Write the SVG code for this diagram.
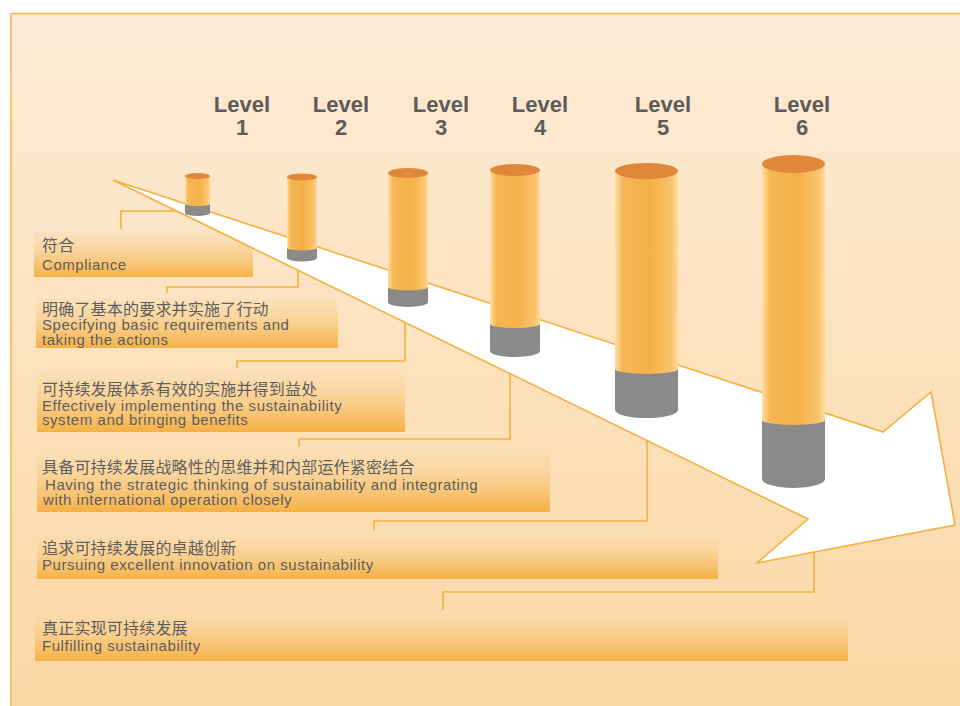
<svg xmlns="http://www.w3.org/2000/svg" width="960" height="706" viewBox="0 0 960 706">
  <defs>
    <linearGradient id="bg" x1="0" y1="0" x2="0" y2="1">
      <stop offset="0" stop-color="#fdebd6"/>
      <stop offset="1" stop-color="#fbd8a4"/>
    </linearGradient>
    <linearGradient id="band" x1="0" y1="0" x2="0" y2="1">
      <stop offset="0" stop-color="#fbdfb4" stop-opacity="0.4"/>
      <stop offset="1" stop-color="#f6b043"/>
    </linearGradient>
    <linearGradient id="body" x1="0" y1="0" x2="1" y2="0">
      <stop offset="0" stop-color="#fde0a4"/>
      <stop offset="0.12" stop-color="#f7b757"/>
      <stop offset="0.55" stop-color="#f5b048"/>
      <stop offset="0.9" stop-color="#fac36c"/>
      <stop offset="1" stop-color="#fddca0"/>
    </linearGradient>
    <style>
      .lvl { font-family: "Liberation Sans", Arial, sans-serif; font-weight: bold; font-size: 22px; fill: #5c5c5c; text-anchor: middle; }
      .zh { font-family: "Noto Sans CJK SC", sans-serif; font-size: 16px; letter-spacing: 0.2px; fill: #5e5e5e; }
      .en { font-family: "Liberation Sans", Arial, sans-serif; font-size: 15px; letter-spacing: 0.55px; fill: #5e5e5e; }
      .band { fill: url(#band); }
      .wire { fill: none; stroke: #f2b13f; stroke-width: 1.6; }
      .top { fill: #e0873a; }
      .grey { fill: #8a8a8a; }
      .body { fill: url(#body); }
    </style>
  </defs>

  <!-- frame -->
  <rect x="0" y="0" width="960" height="706" fill="#ffffff"/>
  <rect x="11" y="13.5" width="960" height="700" fill="url(#bg)" stroke="#f3b548" stroke-width="1.5"/>

  <!-- level titles -->
  <g id="titles">
    <text class="lvl" x="242" y="112">Level</text><text class="lvl" x="242" y="135">1</text>
    <text class="lvl" x="341" y="112">Level</text><text class="lvl" x="341" y="135">2</text>
    <text class="lvl" x="441" y="112">Level</text><text class="lvl" x="441" y="135">3</text>
    <text class="lvl" x="540" y="112">Level</text><text class="lvl" x="540" y="135">4</text>
    <text class="lvl" x="663" y="112">Level</text><text class="lvl" x="663" y="135">5</text>
    <text class="lvl" x="802" y="112">Level</text><text class="lvl" x="802" y="135">6</text>
  </g>

  <!-- description bands -->
  <g id="stage1">
    <rect class="band" x="34" y="232" width="219" height="45"/>
    <text class="zh" x="42" y="251">符合</text>
    <text class="en" x="42" y="270">Compliance</text>
  </g>
  <g id="stage2">
    <rect class="band" x="36" y="298" width="302" height="50"/>
    <text class="zh" x="42" y="315">明确了基本的要求并实施了行动</text>
    <text class="en" x="42" y="330">Specifying basic requirements and</text>
    <text class="en" x="42" y="345">taking the actions</text>
  </g>
  <g id="stage3">
    <rect class="band" x="37" y="370" width="368" height="62"/>
    <text class="zh" x="42" y="395">可持续发展体系有效的实施并得到益处</text>
    <text class="en" x="42" y="411">Effectively implementing the sustainability</text>
    <text class="en" x="42" y="425">system and bringing benefits</text>
  </g>
  <g id="stage4">
    <rect class="band" x="37" y="450" width="513" height="62"/>
    <text class="zh" x="42" y="473">具备可持续发展战略性的思维并和内部运作紧密结合</text>
    <text class="en" x="45" y="490">Having the strategic thinking of sustainability and integrating</text>
    <text class="en" x="43" y="505">with international operation closely</text>
  </g>
  <g id="stage5">
    <rect class="band" x="37" y="534" width="681" height="45"/>
    <text class="zh" x="42" y="554">追求可持续发展的卓越创新</text>
    <text class="en" x="42" y="570">Pursuing excellent innovation on sustainability</text>
  </g>
  <g id="stage6">
    <rect class="band" x="35" y="610" width="813" height="51"/>
    <text class="zh" x="42" y="634">真正实现可持续发展</text>
    <text class="en" x="42" y="651">Fulfilling sustainability</text>
  </g>

  <!-- leader lines from the arrow to each band -->
  <g id="connectors">
    <path class="wire" d="M180,211 H121 V229"/>
    <path class="wire" d="M298,262 V287 H167 V293"/>
    <path class="wire" d="M405,315 V361 H237 V368"/>
    <path class="wire" d="M510,368 V439 H299 V447"/>
    <path class="wire" d="M647,435 V521 H374 V530"/>
    <path class="wire" d="M814,548 V592 H443 V610"/>
  </g>

  <!-- the big arrow -->
  <g id="arrow">
    <polygon points="113,180 883,432 931,392 955,525 757,563 808,519" fill="#ffffff" stroke="#f2b13f" stroke-width="1.6" stroke-linejoin="miter"/>
  </g>

  <!-- cylinders -->
  <g id="cyl1">
    <rect class="grey" x="185" y="204" width="25" height="9"/><ellipse class="grey" cx="197.5" cy="213" rx="12.5" ry="3"/>
    <rect class="body" x="185" y="176" width="25" height="28"/><ellipse class="body" cx="197.5" cy="204" rx="12.5" ry="2"/>
    <ellipse class="top" cx="197.5" cy="176" rx="12.5" ry="3"/>
  </g>
  <g id="cyl2">
    <rect class="grey" x="287" y="248" width="30" height="10"/><ellipse class="grey" cx="302" cy="258" rx="15" ry="3.5"/>
    <rect class="body" x="287" y="177" width="30" height="71"/><ellipse class="body" cx="302" cy="248" rx="15" ry="2.5"/>
    <ellipse class="top" cx="302" cy="177" rx="15" ry="3.5"/>
  </g>
  <g id="cyl3">
    <rect class="grey" x="388" y="287" width="40" height="15"/><ellipse class="grey" cx="408" cy="302" rx="20" ry="5"/>
    <rect class="body" x="388" y="173" width="40" height="114"/><ellipse class="body" cx="408" cy="287" rx="20" ry="3.5"/>
    <ellipse class="top" cx="408" cy="173" rx="20" ry="5"/>
  </g>
  <g id="cyl4">
    <rect class="grey" x="490" y="324" width="50" height="27"/><ellipse class="grey" cx="515" cy="351" rx="25" ry="6"/>
    <rect class="body" x="490" y="170" width="50" height="154"/><ellipse class="body" cx="515" cy="324" rx="25" ry="4"/>
    <ellipse class="top" cx="515" cy="170" rx="25" ry="6"/>
  </g>
  <g id="cyl5">
    <rect class="grey" x="615" y="369" width="63" height="41"/><ellipse class="grey" cx="646.5" cy="410" rx="31.5" ry="8"/>
    <rect class="body" x="615" y="171" width="63" height="198"/><ellipse class="body" cx="646.5" cy="369" rx="31.5" ry="5"/>
    <ellipse class="top" cx="646.5" cy="171" rx="31.5" ry="8"/>
  </g>
  <g id="cyl6">
    <rect class="grey" x="762" y="420" width="63" height="59"/><ellipse class="grey" cx="793.5" cy="479" rx="31.5" ry="9"/>
    <rect class="body" x="762" y="164" width="63" height="256"/><ellipse class="body" cx="793.5" cy="420" rx="31.5" ry="5"/>
    <ellipse class="top" cx="793.5" cy="164" rx="31.5" ry="9"/>
  </g>
</svg>
